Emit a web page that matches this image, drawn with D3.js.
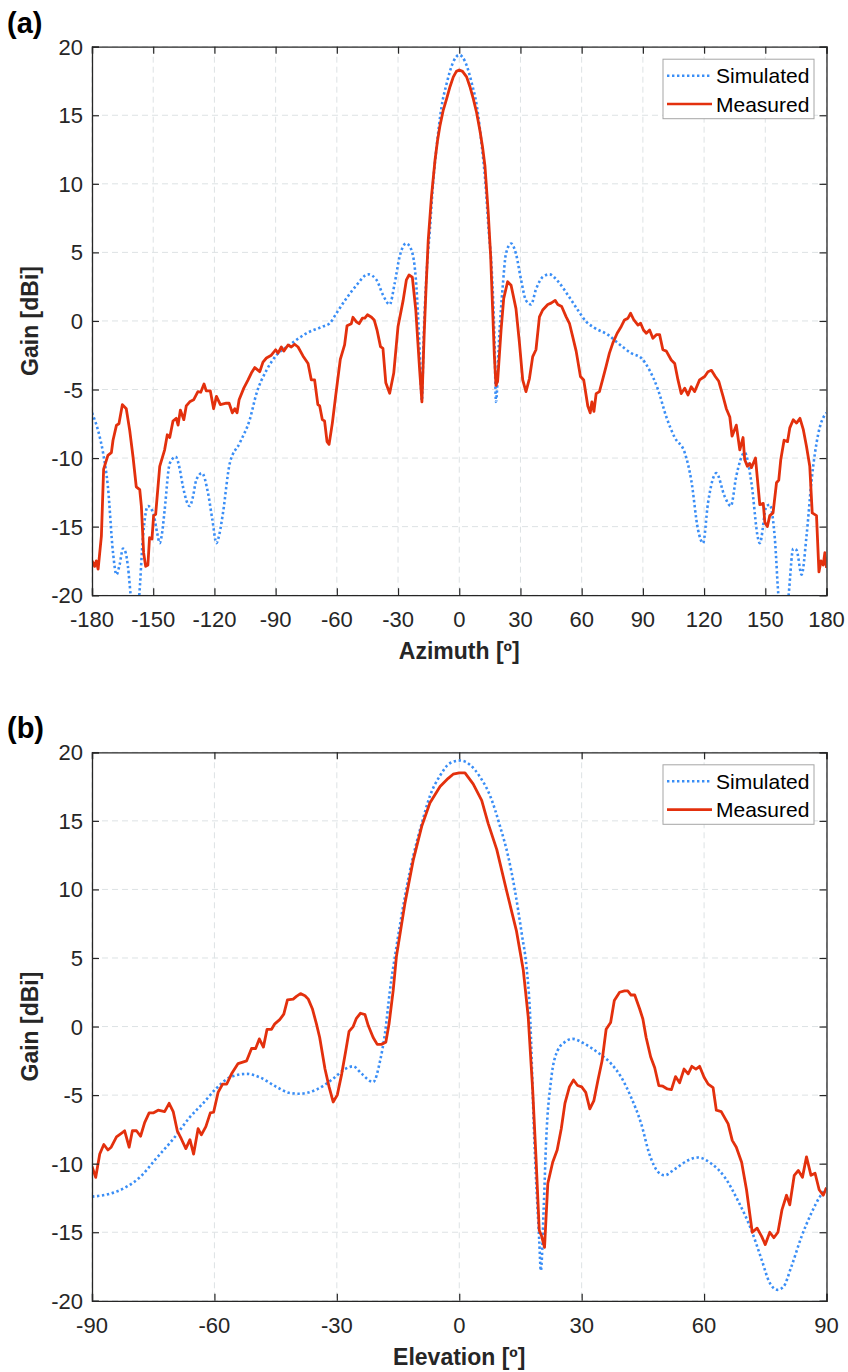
<!DOCTYPE html>
<meta charset="utf-8">
<style>
body { margin: 0; background: #fff; }
svg { display: block; font-family: Arial, "Liberation Sans", Helvetica, sans-serif; }
.grid line { stroke: #dde2e4; stroke-dasharray: 6,4; }
.tick-label { font-size: 22px; fill: #262626; }
.axis-title { font-size: 23px; font-weight: bold; fill: #262626; }
.panel-tag { font-size: 29px; font-weight: bold; fill: #000; }
.legend text { font-size: 21px; fill: #000; }
</style>
<body>
<svg class="chart js-chart"></svg>

<script src="https://d3js.org/d3.v7.min.js"></script>
<script type="text/javascript">
"use strict";

// ---- data ----
var gainTicks = [-20, -15, -10, -5, 0, 5, 10, 15, 20];
var azTicks = [-180, -150, -120, -90, -60, -30, 0, 30, 60, 90, 120, 150, 180];
var elTicks = [-90, -60, -30, 0, 30, 60, 90];
var seriesNames = ["Simulated", "Measured"];

// (a) azimuth cut, simulated
var simAzDeg = [-180, -177, -174.6, -172.2, -169.7, -168, -166.5, -164.8, -163.5, -162.4, -160.7, -159, -157,
  -155, -152.6, -150, -148, -146.8, -145.5, -144.4, -141.9, -139, -137, -135.4, -132.1, -130.5, -128.9,
  -126.1, -123.2, -121, -119, -117.5, -115.8, -112.5, -107.6, -102.7, -99.4, -94.5, -89.6, -83.1, -74.9,
  -66.8, -63.5, -60.2, -55.3, -50.4, -44.7, -40.6, -37.4, -34.1, -31.7, -29.2, -26, -23.5, -21, -19.6,
  -18.3, -17.5, -16, -14.4, -12.7, -11.1, -8.7, -6.2, -2.9, 0,
  2.9, 6.2, 8.7, 11.1, 12.7, 14.4, 16, 17.3, 18, 19.6, 21.3, 22.9, 25.4, 27.8, 30.3, 32.7, 35.2, 37.6,
  40.9, 44.2, 48.3, 53.2, 58.1, 62.2, 66.3, 72.8, 77.7, 84.3, 89.2, 93.3, 97.4, 101.5, 105.6, 110.5,
  113.7, 117, 119.5, 121.9, 126, 130.1, 133.1, 135.8, 139.9, 143.2, 146.5, 147.3, 150.6, 152.2, 154.7,
  156.6, 159, 161.2, 163.7, 165.3, 167.8, 170.2, 172.7, 176, 179.2, 180];
var simAzGain = [-6.7, -8.0, -9.6, -12.1, -16.9, -18.5, -17.8, -16.6, -16.9, -17.9, -20.5, -22, -20.3,
  -15.7, -13.5, -14, -15.5, -16.2, -15.3, -13.8, -10.4, -9.9, -10.8, -12.1, -13.5, -12.8, -11.6,
  -11.1, -12.5, -14.5, -16.2, -15.5, -14, -10.4, -8.9, -7.2, -5.3, -3.6, -2.5, -1.75, -0.9,
  -0.4, -0.17, 0.56, 1.65, 2.6, 3.4, 3.0, 1.9, 1.2, 2.7, 4.7, 5.65, 5.2, 2.5, -1.5,
  -5.8, -1.5, 3.5, 6.65, 10.3, 12.7, 15.6, 17.3, 18.9, 19.4,
  18.9, 17.3, 15.6, 12.7, 10.3, 6.65, 3.5, -1.5, -5.9, -1.1, 2.5, 4.9, 5.65, 4.9, 3.0, 1.5, 1.2, 2.3,
  3.2, 3.4, 2.9, 1.9, 0.8, -0.05, -0.5, -1.0, -1.6, -2.35, -2.7, -3.6, -5.0, -7.0, -8.5, -9.6,
  -11.6, -15.2, -16.2, -13.3, -11.1, -12.8, -13.5, -11.3, -9.6, -11.8, -15.9, -16.2, -13.5, -13.4, -15.9,
  -20.3, -22, -20.3, -16.6, -16.7, -18.5, -15.7, -11.6, -8.2, -6.85, -6.7];

// (a) azimuth cut, measured
var measAzDeg = [-180, -178.7, -177.9, -177, -175.4, -174.3, -172.2, -170.5, -169.7, -168, -166.8, -165.1,
  -163.2, -161.5, -159.9, -158.3, -156.6, -155.8, -154.7, -153.7, -152.6, -151.8, -150.6, -149.8, -148.8,
  -146.8, -144.4, -143.1, -141.9, -140.3, -138.7, -137.8, -136.7, -135, -133.8, -132.1, -130.2, -128.1,
  -126.7, -125.1, -124, -122, -120.4, -119, -117.1, -114.2, -112.8, -111.2, -110, -108.9, -107.9, -105.6,
  -103.5, -101.9, -100.2, -97.8, -96.2, -94.5, -92.1, -90, -88.8, -87.2, -86, -83.9, -82.3, -80.7, -79,
  -76.6, -74.1, -72.5, -70.9, -69.3, -68.4, -67.1, -66, -64.8, -63.8, -62.2, -60.6, -58.3, -56.2, -55,
  -52.9, -52.1, -50.4, -49.1, -47.5, -46.3, -45, -43, -41.7, -40.3, -38.6, -37.4, -36, -34.1, -32.1, -30,
  -27.5, -25.9, -24.6, -23, -21.3, -19.4, -18.3, -17.2, -16.3, -15.2, -13.6, -11.9, -10.7, -9.5, -7.8, -6.2,
  -4.5, -2.9, -1.4, 0,
  1.6, 3.6, 5.2, 6.9, 8.5, 10.1, 11.4, 12.6, 14.2, 15.4, 16.3, 17.2, 18, 18.8, 20.5, 21.8, 23.7, 25.4, 27.8,
  29.5, 31.1, 32.7,
  34.4, 36, 37.6, 39.3, 40.9, 43.4, 45, 47, 48.3, 50.2, 52.4, 54, 55.6, 57.3, 59.4, 61, 63, 64.2, 65, 66,
  67.1, 68.7, 70.4, 72, 73.6, 75.3, 77.4, 79.4, 81, 82.7, 84, 85.6, 87.6, 88.9, 90.3, 91.7, 93.3, 94.9,
  96.6, 98.2, 99.8, 101.5, 103.9, 105.6, 107.2, 108.8, 110.5, 112.1, 113.7, 115.4, 117.8, 120.3, 121.9,
  123.6, 125.5, 127.2, 129.3, 130.9, 132.6, 133.7, 135.8, 137.5, 139.1, 139.9, 141.2, 142.4, 143.2, 145.2,
  146.5, 147.3, 149, 149.8, 151, 152.2, 153.8, 155.5, 156.6, 157.6, 159.2, 160.9, 162, 163.7, 165.3, 167,
  168.6, 170.2, 171.8, 173, 175.1, 176.3, 177.3, 178.4, 179.2, 180];
var measAzGain = [-17.5, -17.9, -17.5, -18.1, -15.7, -10.8, -9.8, -9.6, -8.7, -7.6, -7.5, -6.1,
  -6.4, -8.0, -9.9, -12.1, -12.3, -13.5, -16.9, -17.9, -17.8, -15.8, -15.9, -14.2, -14.1,
  -10.6, -9.4, -8.3, -8.5, -7.3, -7.1, -7.6, -6.5, -7.2, -6.2, -5.9, -5.75, -5.15,
  -5.2, -4.6, -5.1, -5.1, -6.4, -5.5, -6.1, -6.0, -6.0, -6.7, -6.4, -6.7, -5.75, -4.9,
  -4.3, -3.8, -3.4, -3.7, -3.0, -2.7, -2.5, -2.1, -2.35, -1.9, -2.2, -1.75, -1.9, -1.7, -1.9,
  -2.55, -3.1, -4.3, -4.3, -6.1, -6.2, -7.2, -7.3, -8.8, -9.0, -7.45, -5.5, -2.8, -1.75, -0.35,
  -0.2, 0.27, -0.07, -0.2, 0.2, 0.2, 0.45, 0.27, 0.07, -0.66, -1.87, -2.0, -4.5, -5.27, -3.8, -0.4,
  1.5, 3.0, 3.35, 3.2, 0.8, -3.6, -5.9, -1.0, 2.3, 5.9, 9.1, 11.7, 13.1, 14.2, 15.4, 16.2,
  17.1, 17.8, 18.2, 18.3,
  18.2, 17.8, 17.1, 16.2, 15.2, 13.9, 12.7, 11.3, 7.9, 4.7, 1.1, -2.5, -4.7, -4.4, -0.66, 1.65, 2.86, 2.6, 0.9,
  -1.6, -4.3, -5.15,
  -4.2, -2.6, -2.1, 0.3, 0.8, 1.2, 1.3, 1.5, 1.2, 1.05, 0.3, -0.17, -1.14, -2.2, -4.05, -4.3, -6.2, -6.7, -5.9, -6.6,
  -5.3, -5.15, -4.2, -3.3, -2.35, -1.6, -0.9, -0.4, 0.07, 0.2, 0.56, 0.07, -0.3, -0.17, -0.66, -0.9, -0.66, -1.26,
  -1.0, -1.0, -2.1, -2.2, -2.85, -3.1, -4.3, -5.3, -4.9, -5.4, -4.8, -5.15, -4.3, -4.05, -3.7,
  -3.6, -4.05, -4.4, -5.5, -6.4, -7.0, -8.4, -7.6, -9.4, -8.5, -10.1, -10.6, -10.4, -10.7, -10.0,
  -12.1, -13.4, -13.3, -14.7, -15.0, -14.2, -14.0, -11.8, -11.6, -10.1, -8.7, -8.8, -7.8, -7.2, -7.45, -7.1,
  -7.9, -9.15, -10.6, -14.0, -14.2, -18.3, -17.5, -17.8, -16.9, -18.0];

// (b) elevation cut, simulated
var simElDeg = [-90, -85.7, -81.6, -78.3, -74.2, -70.1, -66, -62.8, -59.5, -56.2, -52.1, -48.9, -44.8,
  -41.5, -39.1, -35, -30.9, -28, -26, -23.9, -21.1, -19.4, -18.2, -17, -15.4, -13.3, -11.3, -9.2, -7.2,
  -4.7, -2.3, 0.2, 2.6, 5.1, 7.6, 10, 12, 13.6, 15.3, 16.5, 17.3, 18.4, 19.6, 20, 20.7, 21.3, 22.5, 24.1,
  25.8, 27.8, 30.7, 34, 37.2, 39.7, 42.1, 44.6, 46.6, 48.7, 50.3, 52.8, 56.1, 58.5, 61.8, 65.1, 68.3,
  71.6, 74.1, 76.1, 78, 79.4, 81.4, 83.9, 86.3, 88.4, 90];
var simElGain = [-12.4, -12.2, -11.7, -11.0, -9.6, -8.2, -6.6, -5.6, -4.5, -3.7, -3.45, -3.7, -4.4,
  -4.85, -4.9, -4.6, -3.8, -3.1, -2.9, -3.45, -4.05, -2.5, -0.5, 2.6, 5.8, 9.5, 12.4, 14.8, 16.8,
  18.3, 19.2, 19.4, 19.1, 18.2, 16.8, 14.6, 12.4, 10.0, 6.8, 4.3, 1.2, -8.3, -15.6, -17.8, -13.2, -8.3, -3.9, -1.75,
  -1.15, -0.9, -1.26, -1.9, -2.7, -3.7, -5.15, -7.1, -9.3, -10.6, -10.85, -10.4, -9.75, -9.55, -10.0, -11.0, -12.7,
  -14.85, -17.0, -18.7, -19.2, -19.0, -17.5, -15.3, -13.6, -12.4, -11.8];

// (b) elevation cut, measured
var measElDeg = [-90, -89.1, -88.1, -87.1, -86.1, -85.3, -84, -82.4, -82, -80.9, -80.1, -79.1, -78.1,
  -77.1, -76, -75, -73.8, -72.2, -71.1, -70.1, -69.1, -68.1, -67, -66, -65.1, -64, -63.2, -62.1, -61,
  -60.2, -59.1, -58, -57, -55.8, -54.2, -52.1, -50.9, -49.9, -49, -48, -47.1, -46, -45.2, -44, -43,
  -42.1, -40.7, -39.9, -38.9, -37.8, -37, -36, -35, -34.2, -32.9, -31.9, -30.9, -29.9, -28.8, -27.8,
  -27, -26, -25.2, -24.2, -23.1, -22.3, -21.1, -20.1, -19.1, -18, -17.2, -16.2, -15.4, -13.3, -11.3,
  -9.2, -7.2, -4.7, -2.7, -1.5, 0, 1.4, 3.4, 5.5, 7.1, 9.2, 11.6, 14, 15.7, 16.9, 18, 18.8, 19.6, 20.2,
  20.9, 21.7, 22.9, 24, 25, 25.9, 27, 28, 29, 30, 31, 32, 33, 34, 35, 36, 37.1, 38, 39.3, 40.5, 41.3,
  42.1, 43, 44.2, 45, 45.8, 46.9, 47.9, 48.9, 49.9, 51, 52, 53, 54, 55.1, 56.1, 57, 58, 58.9, 60, 61,
  62.2, 63, 64.2, 65.9, 66.9, 67.9, 69.2, 70.4, 71.8, 73, 74.1, 75, 76.1, 77.1, 78.1, 79.1, 80.2, 81,
  82.1, 83.1, 84.1, 85.1, 86.2, 87.2, 88.2, 89.2, 90];
var measElGain = [-10.2, -11.0, -9.3, -8.6, -9.0, -8.8, -8.05, -7.7, -7.6, -8.8, -7.6, -7.6, -8.0,
  -7.0, -6.3, -6.3, -6.1, -6.2, -5.6, -6.2, -7.6, -8.2, -8.9, -8.25, -9.3, -7.45, -7.9, -7.3, -6.3,
  -6.25, -4.8, -4.2, -4.2, -3.45, -2.7, -2.5, -1.6, -1.6, -0.9, -1.5, -0.2, -0.2, 0.2, 0.5, 0.9,
  1.95, 2.0, 2.2, 2.4, 2.25, 2.0, 1.3, 0.2, -0.8, -3.1, -4.4, -5.5, -5.0, -3.45, -1.75,
  -0.35, 0.0, 0.6, 0.97, 0.87, 0.07, -0.8, -1.3, -1.3, -1.15, 0.2, 2.6, 5.1, 9.0, 12.1,
  14.6, 16.3, 17.5, 18.1, 18.4, 18.5, 18.5, 17.7, 16.5, 14.8, 12.9, 9.9, 7.0, 4.1, 0.7, -4.65, -9.5, -14.85, -15.3,
  -16.1, -11.45, -9.9, -9.0, -7.45, -5.6, -4.4, -3.9, -4.3, -4.4, -4.8, -6.0, -5.4, -3.9, -2.5, -0.2, 0.3, 1.9, 2.5, 2.6, 2.6,
  2.3, 2.3, 1.3, 0.55, -0.8, -2.2, -3.0, -4.3, -4.35, -4.55, -4.6, -3.65, -4.1, -3.1, -3.45, -2.9, -3.1, -2.9, -3.7, -4.2,
  -4.45, -6.1, -6.2, -7.1, -8.3, -8.8, -9.9, -11.9, -15.0, -14.7, -15.3, -15.9, -15.0, -15.4, -15.0, -13.35, -12.3, -13.0,
  -10.85, -10.5, -11.0, -9.5, -10.85, -10.7, -11.9, -12.3, -11.75];

// ---- drawing ----
var width = 848, height = 1372;
var colors = { Simulated: "#3a8ef6", Measured: "#e3300d" };

var svg = d3.select(".js-chart").attr("width", width).attr("height", height);

function zip(xs, ys) {
  return xs.map(function (d, i) { return [d, ys[i]]; });
}

function drawPanel(opts) {
  var left = 92, right = 826.5, top = opts.top, bottom = opts.top + 548.5;
  var x = d3.scaleLinear().domain(d3.extent(opts.xTicks)).range([left, right]);
  var y = d3.scaleLinear().domain([-20, 20]).range([bottom, top]);
  var g = svg.append("g");

  g.append("text").attr("class", "panel-tag").attr("x", 7).attr("y", top - 14).text(opts.tag);

  // grid
  var grid = g.append("g").attr("class", "grid");
  grid.selectAll(".gx").data(opts.xTicks).enter().append("line")
    .attr("x1", function (d) { return x(d); }).attr("x2", function (d) { return x(d); })
    .attr("y1", top).attr("y2", bottom);
  grid.selectAll(".gy").data(gainTicks).enter().append("line")
    .attr("y1", function (d) { return y(d); }).attr("y2", function (d) { return y(d); })
    .attr("x1", left).attr("x2", right);

  // curves, clipped to the axes box
  var clipId = "clip-" + opts.tag.replace(/\W/g, "");
  svg.append("clipPath").attr("id", clipId).append("rect")
    .attr("x", left).attr("y", top).attr("width", right - left).attr("height", bottom - top);
  var smooth = d3.line().curve(d3.curveMonotoneX)
    .x(function (d) { return x(d[0]); }).y(function (d) { return y(d[1]); });
  var line = d3.line().x(function (d) { return x(d[0]); }).y(function (d) { return y(d[1]); });
  var curves = g.append("g").attr("clip-path", "url(#" + clipId + ")");
  curves.append("path").datum(zip(opts.simDeg, opts.simGain))
    .attr("d", smooth).attr("fill", "none").attr("stroke", colors.Simulated)
    .attr("stroke-width", 2.6).attr("stroke-dasharray", "2.4,2.6");
  curves.append("path").datum(zip(opts.measDeg, opts.measGain))
    .attr("d", line).attr("fill", "none").attr("stroke", colors.Measured)
    .attr("stroke-width", 2.8).attr("stroke-linejoin", "round");

  // axes: box with inward ticks on all sides
  g.append("g").attr("transform", "translate(0," + bottom + ")")
    .call(d3.axisTop(x).tickValues(opts.xTicks).tickSize(7).tickFormat(""));
  g.append("g").attr("transform", "translate(0," + top + ")")
    .call(d3.axisBottom(x).tickValues(opts.xTicks).tickSize(7).tickFormat(""));
  g.append("g").attr("transform", "translate(" + left + ",0)")
    .call(d3.axisRight(y).tickValues(gainTicks).tickSize(7).tickFormat(""));
  g.append("g").attr("transform", "translate(" + right + ",0)")
    .call(d3.axisLeft(y).tickValues(gainTicks).tickSize(7).tickFormat(""));
  g.selectAll(".domain").attr("stroke", "#262626").attr("stroke-width", 1.3);
  g.selectAll(".tick line").attr("stroke", "#262626").attr("stroke-width", 1.2);

  // tick labels
  g.selectAll(".xl").data(opts.xTicks).enter().append("text")
    .attr("class", "tick-label").attr("text-anchor", "middle")
    .attr("x", function (d) { return x(d); }).attr("y", bottom + 32)
    .text(function (d) { return d; });
  g.selectAll(".yl").data(gainTicks).enter().append("text")
    .attr("class", "tick-label").attr("text-anchor", "end")
    .attr("x", left - 9).attr("y", function (d) { return y(d) + 8; })
    .text(function (d) { return d; });

  g.append("text").attr("class", "axis-title").attr("text-anchor", "middle")
    .attr("x", (left + right) / 2).attr("y", bottom + 64).text(opts.xTitle);
  g.append("text").attr("class", "axis-title").attr("text-anchor", "middle")
    .attr("transform", "translate(38," + (top + bottom) / 2 + ") rotate(-90)").text("Gain [dBi]");

  // legend
  var lg = g.append("g").attr("class", "legend");
  lg.append("rect").attr("x", 663).attr("y", top + 12.5).attr("width", 151).attr("height", 59.5)
    .attr("fill", "#fff").attr("stroke", "#a6a6a6").attr("stroke-width", 1);
  seriesNames.forEach(function (name, i) {
    var cy = top + 29 + i * 28.3;
    lg.append("line").attr("x1", 667).attr("x2", 712).attr("y1", cy).attr("y2", cy)
      .attr("stroke", colors[name]).attr("stroke-width", 2.6)
      .attr("stroke-dasharray", name === "Simulated" ? "2.4,2.6" : null);
    lg.append("text").attr("x", 716).attr("y", cy + 7.5).text(name);
  });
}

drawPanel({ tag: "(a)", top: 46.7, xTicks: azTicks, xTitle: "Azimuth [º]",
  simDeg: simAzDeg, simGain: simAzGain, measDeg: measAzDeg, measGain: measAzGain });
drawPanel({ tag: "(b)", top: 752.3, xTicks: elTicks, xTitle: "Elevation [º]",
  simDeg: simElDeg, simGain: simElGain, measDeg: measElDeg, measGain: measElGain });
</script>
</body>
